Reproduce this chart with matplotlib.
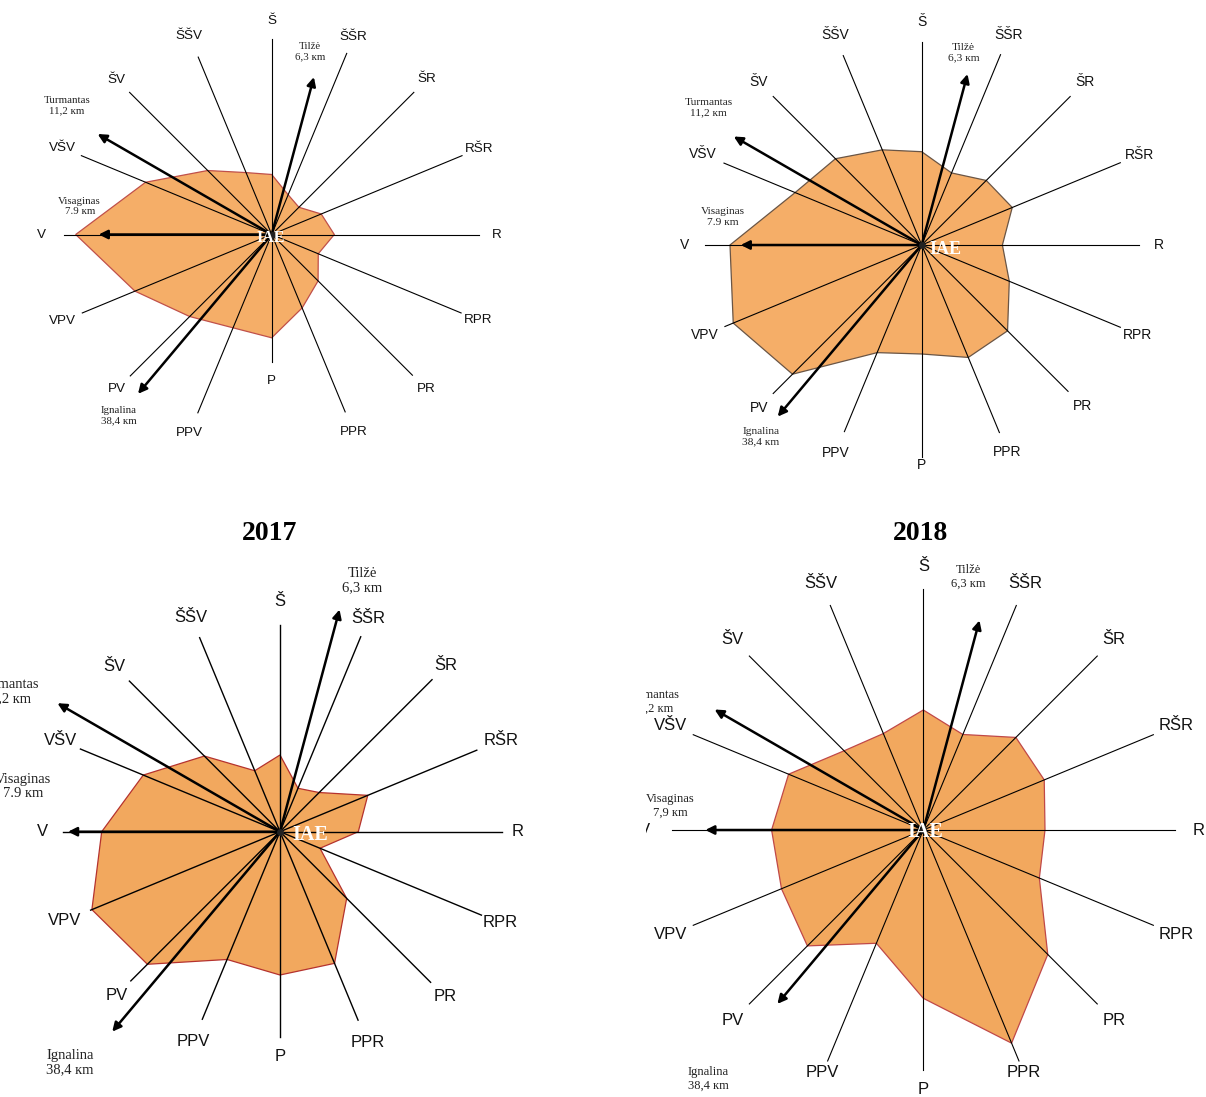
import numpy as np
import matplotlib
matplotlib.use("Agg")
import matplotlib.pyplot as plt
from matplotlib.transforms import Bbox

W, H, DPI = 1206, 1097, 100

# ---------------- data ----------------
directions = ['Š', 'ŠŠR', 'ŠR', 'RŠR', 'R', 'RPR', 'PR', 'PPR',
              'P', 'PPV', 'PV', 'VPV', 'V', 'VŠV', 'ŠV', 'ŠŠV']
bearings = np.arange(16) * 22.5

# wind-rose radii (panel units)
rose_top_left = [60, 43, 38.5, 53.6, 62.6, 50.4, 65.6, 79.5,
                 103.3, 101, 116, 148, 196, 136.5, 90.5, 67]
rose_top_right = [93.3, 78, 91.3, 98, 80.7, 94.8, 121.4, 121.7,
                  109, 116.5, 182.7, 204, 191.7, 137, 122, 103]
rose_2017 = [76.7, 47, 55.4, 95, 78.3, 43.3, 94.3, 142.5,
             143.3, 138.3, 187.5, 203.6, 178.3, 148, 107, 66]
rose_2018 = [120, 103.4, 130.9, 130.9, 121.7, 125.6, 176, 230.7,
             168.3, 122.6, 163.9, 153.5, 151.7, 145.8, 112, 104.4]

town_names = ['Tilžė', 'Turmantas', 'Visaginas', 'Ignalina']
town_dist = ['6,3 кm', '11,2 кm', '7.9 кm', '38,4 кm']
town_dist_2018 = ['6,3 кm', '11,2 кm', '7,9 кm', '38,4 кm']
town_bearing = [15, 300, 270, 220]

titles = ['', '', '2017', '2018']

# ---------------- layout / style ----------------
panels = [
    dict(values=rose_top_left, center=(271.7, 234.5),
         spokes=[195, 196, 201, 206, 207, 205, 199, 192, 127, 193, 200, 205, 208, 206, 201, 192],
         labr=[213, 214, 220, 224, 225, 223, 219, 214, 146, 215, 219, 227, 230, 227, 219, 215],
         arrows=[163, 201, 173, 208],
         toff=[(38, 183), (-205, 129), (-192, 28), (-153, -181)],
         dist=town_dist, fs=9.7, tfs=7.8, ifs=11.5, ioff=(-1, -3),
         fill='#F5AE68', edge='#C0504A', slw=0.8, clipx=0),
    dict(values=rose_top_right, center=(921.7, 245),
         spokes=[203, 206, 210, 215, 217, 215, 207, 203, 212, 202, 210, 213, 217, 214, 210, 205],
         labr=[223, 227, 231, 236, 237, 234, 228, 224, 220, 225, 230, 235, 237, 237, 231, 227],
         arrows=[177, 217, 181, 224],
         toff=[(42, 192), (-213, 137), (-199, 28), (-161, -192)],
         dist=town_dist, fs=10, tfs=8.2, ifs=13, ioff=(24, -5),
         fill='#F5AE68', edge='#6A5545', slw=0.8, clipx=0),
    dict(values=rose_2017, center=(280, 831.7),
         spokes=[207, 211, 215, 213, 222, 218, 213, 204, 205, 203, 211, 205, 217, 216, 213, 210],
         labr=[230, 231, 235, 239, 238, 238, 233, 228, 225, 227, 231, 233, 238, 238, 234, 232],
         arrows=[230, 257, 212, 261],
         toff=[(82, 251), (-272, 140), (-257, 45), (-210, -231)],
         dist=town_dist, fs=12, tfs=10.5, ifs=14.5, ioff=(30, -3),
         fill='#F2A85E', edge='#B5322E', slw=1.0, clipx=0),
    dict(values=rose_2018, center=(923.3, 830),
         spokes=[241, 243, 246, 249, 252, 249, 246, 250, 240, 250, 246, 249, 251, 249, 246, 243],
         labr=[264, 267, 270, 274, 275, 274, 270, 263, 260, 263, 270, 274, 279, 274, 270, 267],
         arrows=[217, 241, 218, 227],
         toff=[(45, 253), (-270, 128), (-253, 24), (-215, -249)],
         dist=town_dist_2018, fs=12, tfs=9, ifs=14.5, ioff=(2, -2),
         fill='#F2A85E', edge='#C04848', slw=0.8, clipx=646),
]
title_pos = [None, None, (270, 533), (920, 533)]

SANS = ['Liberation Sans', 'DejaVu Sans']
SERIF = ['Liberation Serif', 'DejaVu Serif']

fig = plt.figure(figsize=(W / DPI, H / DPI), dpi=DPI)
fig.patch.set_facecolor('white')

R = 300  # half-size of each polar axes, in pixels
for k, p in enumerate(panels):
    cx, cy = p['center']
    rect = [(cx - R) / W, 1 - (cy + R) / H, 2 * R / W, 2 * R / H]
    ax = fig.add_axes(rect, projection='polar')
    ax.set_theta_zero_location('N')
    ax.set_theta_direction(-1)
    ax.set_axis_off()

    th = np.deg2rad(bearings)
    vals = np.asarray(p['values'])
    ax.fill(np.append(th, th[0]), np.append(vals, vals[0]),
            facecolor=p['fill'], edgecolor=p['edge'], lw=0.9, zorder=1)

    for t, L in zip(th, p['spokes']):
        ax.plot([t, t], [0, L], color='black', lw=p['slw'], zorder=2)

    for t, Lr, name in zip(th, p['labr'], directions):
        ax.text(t, Lr, name, ha='center', va='center', fontsize=p['fs'],
                family=SANS, color='#111111', zorder=5)

    for b, La in zip(town_bearing, p['arrows']):
        ax.annotate('', xy=(np.deg2rad(b), La), xytext=(0, 0),
                    arrowprops=dict(arrowstyle='-|>', color='black', lw=1.8,
                                    mutation_scale=13, shrinkA=0, shrinkB=0),
                    zorder=3)

    for name, d, off in zip(town_names, p['dist'], p['toff']):
        ax.annotate(f'{name}\n{d}', xy=(0, 0), xytext=off,
                    textcoords='offset pixels', ha='center', va='center',
                    fontsize=p['tfs'], family=SERIF, color='#222222',
                    linespacing=1.15, zorder=5)

    ax.plot([0], [0], 'o', color='#222222', ms=4, zorder=4)
    ax.annotate('IAE', xy=(0, 0), xytext=p['ioff'], textcoords='offset pixels',
                ha='center', va='center', fontsize=p['ifs'], family=SERIF,
                fontweight='bold', color='white', zorder=6)
    ax.set_ylim(0, R)

    # the scanned 2018 panel is cropped on its left side
    if p['clipx'] > 0:
        clipbox = Bbox.from_extents(p['clipx'], 0, W, H)
        for t in ax.texts:
            t.set_clip_path(None)
            t.set_clip_box(clipbox)
            t.set_clip_on(True)

    if titles[k]:
        tx, ty = title_pos[k]
        fig.text(tx / W, 1 - ty / H, titles[k], ha='center', va='center',
                 fontsize=20, fontweight='bold', family=SERIF)

fig.savefig('out.png', dpi=DPI, facecolor='white')
